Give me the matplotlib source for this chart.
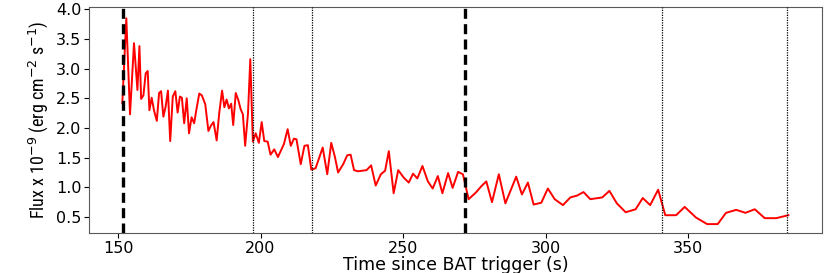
import matplotlib
matplotlib.use("Agg")
import matplotlib.pyplot as plt
from matplotlib import font_manager

# Time since BAT trigger (s)
time_s = [151.5, 152.9, 154.2, 155.6, 156.8, 157.5, 158.1, 158.9, 159.7, 160.4,
          161.0, 161.8, 162.6, 163.6, 164.4, 165.1, 165.9, 166.7, 167.5, 168.3,
          169.2, 170.1, 170.9, 171.7, 172.4, 173.2, 174.1, 174.9, 175.8, 176.7,
          177.6, 178.5, 179.4, 180.6, 181.7, 182.6, 183.5, 184.6, 185.5, 186.5,
          187.3, 188.1, 188.9, 189.7, 190.4, 191.3, 192.2, 193.0, 193.8, 194.6,
          195.6, 196.4, 197.3, 198.3, 199.4, 200.4, 201.3, 202.5, 203.5, 204.8,
          206.1, 208.2, 209.5, 210.6, 211.7, 212.6, 214.1, 215.4, 216.6, 217.8,
          219.3, 220.8, 221.8, 223.4, 224.8, 226.1, 227.2, 229.0, 230.4, 231.6,
          232.8, 234.2, 237.2, 238.8, 240.4, 242.2, 243.7, 245.0, 246.7, 248.3,
          250.3, 252.0, 253.5, 255.0, 256.8, 258.7, 260.4, 262.2, 263.8, 265.8,
          267.4, 269.3, 271.0, 273.0, 275.5, 277.5, 279.2, 281.2, 283.6, 285.9,
          288.0, 289.7, 291.7, 293.8, 295.8, 298.5, 300.8, 303.2, 306.1, 308.7,
          311.0, 313.3, 315.7, 319.9, 322.4, 325.0, 328.1, 331.6, 334.1, 336.7,
          339.5, 342.0, 345.8, 348.8, 352.8, 356.7, 360.4, 363.3, 366.9, 370.1,
          373.4, 376.9, 380.9, 385.2]

# Flux (x 1e-9 erg cm^-2 s^-1)
flux = [2.42, 3.85, 2.23, 3.43, 2.64, 3.38, 2.49, 2.55, 2.92, 2.96,
        2.30, 2.51, 2.30, 2.12, 2.59, 2.62, 2.19, 2.36, 2.63, 1.78,
        2.53, 2.62, 2.26, 2.53, 2.51, 2.08, 2.50, 1.91, 2.18, 2.08,
        2.34, 2.58, 2.55, 2.40, 1.95, 2.04, 2.10, 1.79, 2.25, 2.63,
        2.35, 2.48, 2.33, 2.41, 2.05, 2.59, 2.47, 2.32, 2.23, 1.70,
        2.25, 3.16, 1.77, 1.91, 1.75, 2.10, 1.78, 1.77, 1.55, 1.64,
        1.51, 1.73, 1.98, 1.70, 1.82, 1.81, 1.39, 1.70, 1.71, 1.30,
        1.32, 1.53, 1.67, 1.22, 1.75, 1.51, 1.25, 1.39, 1.54, 1.55,
        1.29, 1.27, 1.29, 1.37, 1.03, 1.22, 1.28, 1.61, 0.90, 1.29,
        1.16, 1.08, 1.23, 1.15, 1.36, 1.10, 0.98, 1.19, 0.90, 1.24,
        0.99, 1.26, 1.22, 0.80, 0.91, 1.02, 1.10, 0.75, 1.22, 0.73,
        0.98, 1.18, 0.88, 1.08, 0.71, 0.74, 0.98, 0.80, 0.70, 0.83,
        0.86, 0.92, 0.80, 0.83, 0.94, 0.73, 0.58, 0.63, 0.82, 0.70,
        0.96, 0.53, 0.53, 0.67, 0.49, 0.38, 0.38, 0.57, 0.62, 0.57,
        0.63, 0.48, 0.48, 0.53]

# Vertical markers
thick_lines = [151.7, 271.6]
thin_lines = [197.4, 217.9, 341.0, 384.6]

x_ticks = [150, 200, 250, 300, 350]
y_ticks = [0.5, 1.0, 1.5, 2.0, 2.5, 3.0, 3.5, 4.0]

installed = {f.name for f in font_manager.fontManager.ttflist}
narrow = [n for n in ["Roboto Condensed", "Open Sans Condensed", "Liberation Sans Narrow",
                      "Liberation Sans"] if n in installed]
ylab_family = narrow[:1] + ["DejaVu Sans"]

fig = plt.figure(figsize=(8.3, 2.73), dpi=100)
ax = fig.add_axes([0.1072, 0.1465, 0.8832, 0.828])

ax.plot(time_s, flux, color="red", lw=1.4, zorder=2)
for xv in thick_lines:
    ax.axvline(xv, color="black", lw=2.4, ls=(0, (3, 1.6)), zorder=3)
for xv in thin_lines:
    ax.axvline(xv, color="black", lw=0.9, ls=(0, (1, 1)), zorder=3)

ax.set_xlim(139.8, 397.0)
ax.set_ylim(0.23, 4.04)
ax.set_xticks(x_ticks)
ax.set_yticks(y_ticks)
ax.tick_params(labelsize=11.5, length=3.5, width=0.8, pad=2)
ax.set_xlabel("Time since BAT trigger (s)", fontsize=12.5, labelpad=0)
ax.set_ylabel(r"Flux x 10$^{-9}$ (erg cm$^{-2}$ s$^{-1}$)",
              fontsize=13, family=ylab_family, labelpad=4)
for sp in ax.spines.values():
    sp.set_color("0.35")

fig.savefig("out.png", dpi=100)
